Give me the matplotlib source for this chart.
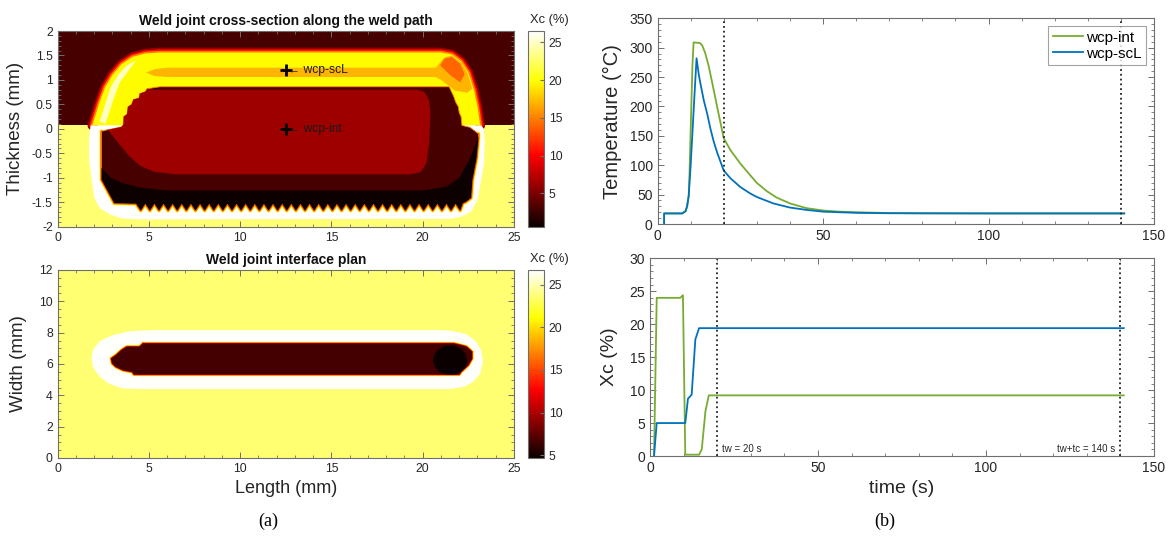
import numpy as np
import matplotlib
matplotlib.use("Agg")
import matplotlib.pyplot as plt
from matplotlib.patches import Polygon, Ellipse
from matplotlib.colors import Normalize
from matplotlib.cm import ScalarMappable
from matplotlib.ticker import MultipleLocator

plt.rcParams['font.family'] = ['Liberation Sans', 'DejaVu Sans']

# ---------------- thermal history (s, degC) ----------------
t_T_int = [2, 2, 7.5, 8.5, 9.0, 9.5, 10.0, 10.55, 10.9, 12.8, 13.5, 14.4, 15.5, 17.2, 18.0,
           20, 22, 25, 28, 30, 33, 36, 40, 45, 50, 55, 60, 70, 80, 100, 120, 141]
T_int = [0, 18, 18, 22, 30, 50, 155, 269, 309, 308, 304, 291, 268, 222, 200,
         146, 126, 103, 83, 70, 56, 45, 35, 27, 23, 21, 20, 18.7, 18.2, 18, 18, 18]

t_T_scl = [2, 2, 7.5, 8.5, 8.9, 9.4, 10.0, 10.5, 11.1, 11.8, 12.5, 13.0, 14.0, 15.0, 16.0,
           17.0, 18.0, 20, 22, 25, 28, 30, 35, 40, 45, 50, 60, 70, 100, 141]
T_scl = [0, 18, 18, 22, 30, 47, 98, 150, 212, 282, 253, 238, 210, 188, 162,
         140, 122, 91, 78, 63, 52, 46, 35, 28, 24, 21, 19, 18.3, 18, 18]

# ---------------- crystallinity history (s, %) ----------------
t_X_int = [1.2, 2.0, 9.0, 9.8, 10.5, 14.6, 15.4, 16.5, 17.5, 141]
X_int = [0, 24, 24, 24.4, 0.2, 0.2, 1.0, 6.8, 9.2, 9.2]

t_X_scl = [1.2, 2.0, 10.5, 11.3, 12.4, 13.5, 14.6, 141]
X_scl = [0, 5, 5, 8.7, 9.3, 17.7, 19.4, 19.4]

t_weld = 20
t_total = 140

# ---------------- cross-section zones (mm, Xc %) ----------------
xs_lims = (0.6, 26.5)
xs_val_top = 3.0
xs_val_bottom = 22.8
xs_val_band = 19.8
xs_val_stripe = 17.0
xs_val_stripe_dark = 14.0
xs_val_pale = 24.8
xs_val_ring = 26.4
xs_val_matrix = 3.0
xs_val_core = 6.3
xs_val_black = 0.8
xs_edge_outer = [6.0, 10.5, 15.0]
xs_edge_inner = [21.0, 16.0, 11.0]

surface_y = 0.07

band_outer = [(1.9, 0.07), (2.05, 0.25), (2.3, 0.55), (2.6, 0.85), (3.0, 1.1), (3.5, 1.32),
              (4.1, 1.47), (4.8, 1.54), (5.6, 1.56), (21.0, 1.56), (21.6, 1.52), (22.1, 1.38),
              (22.5, 1.15), (22.8, 0.8), (23.0, 0.45), (23.15, 0.07)]

jag_left = [(3.0, 0.0), (3.5, 0.04), (3.6, 0.09), (3.62, 0.25), (3.8, 0.3), (3.85, 0.45),
            (4.05, 0.5), (4.15, 0.6), (4.45, 0.63), (4.5, 0.72), (4.8, 0.76), (4.9, 0.82),
            (5.6, 0.86)]
jag_right = [(21.45, 0.86), (21.6, 0.74), (21.7, 0.66), (21.8, 0.55), (21.95, 0.45),
             (22.0, 0.33), (22.1, 0.25), (22.15, 0.07), (22.6, 0.03), (23.05, -0.1)]

stripe = [(4.85, 1.15), (5.3, 1.22), (6.0, 1.25), (20.7, 1.25), (20.95, 1.35), (21.2, 1.46),
          (21.6, 1.5), (22.1, 1.36), (22.45, 1.14), (22.72, 0.82), (22.45, 0.74),
          (22.15, 0.76), (21.75, 0.78), (21.5, 0.86), (21.0, 1.0), (20.7, 1.06), (6.0, 1.06),
          (5.3, 1.08)]
stripe_dark = [(20.95, 1.3), (21.2, 1.44), (21.6, 1.47), (22.05, 1.33), (22.3, 1.12),
               (22.05, 0.95), (21.5, 1.1)]
pale_strip = [(2.3, 0.15), (2.6, 0.5), (2.9, 0.85), (3.3, 1.1), (3.8, 1.3), (4.3, 1.4),
              (3.9, 1.2), (3.4, 0.95), (3.05, 0.6), (2.75, 0.25), (2.6, 0.1)]

ring_outer = [(1.8, 0.07), (1.72, -0.2), (1.72, -0.6), (1.86, -1.04), (2.0, -1.4),
              (2.3, -1.62), (2.86, -1.75), (3.5, -1.83), (4.5, -1.85), (21.5, -1.84),
              (22.1, -1.8), (22.65, -1.69), (23.0, -1.45), (23.2, -1.05), (23.35, -0.7),
              (23.4, -0.3), (23.35, 0.0), (23.2, 0.07)]

inner_side_left = [(2.4, -0.05), (2.4, -1.04), (3.1, -1.52)]
inner_side_right = [(22.2, -1.52), (22.37, -1.49), (22.65, -1.41), (22.72, -1.05),
                    (22.95, -0.6), (23.05, -0.2), (23.05, -0.1)]
saw_x = np.arange(4.3, 22.21, 0.25)
saw_depth = (-1.53, -1.67)

black_top = [(23.05, -0.15), (22.95, -0.25), (22.6, -0.6), (22.0, -1.0), (21.3, -1.18),
             (20.0, -1.26), (6.0, -1.26), (4.5, -1.2), (3.5, -1.1), (2.9, -1.0), (2.4, -0.8)]

core = [(2.75, -0.02)] + jag_left[1:-1] + [(5.2, 0.8), (6.0, 0.80), (19.7, 0.80), (20.1, 0.75),
        (20.35, 0.58), (20.42, 0.3), (20.35, -0.3), (20.2, -0.7), (19.9, -0.88),
        (19.3, -0.93), (6.5, -0.93), (5.3, -0.88), (4.5, -0.75), (3.9, -0.55), (3.3, -0.28)]

probe_x = [12.5, 12.5]
probe_y = [1.2, 0.0]
probe_names = ['wcp-scL', 'wcp-int']

# ---------------- interface plan zones (mm, Xc %) ----------------
pl_lims = (4.7, 26.7)
pl_val_bg = 23.6
pl_val_ring = 26.6
pl_val_nugget = 6.6
pl_val_core = 4.75
pl_edge = [21.0, 16.0, 11.0]

pl_ring = [(5.3, 8.16), (4.0, 8.1), (3.0, 7.85), (2.3, 7.45), (1.95, 6.95), (1.85, 6.35),
           (1.95, 5.75), (2.3, 5.2), (2.8, 4.75), (3.5, 4.45), (4.5, 4.4), (21.5, 4.4),
           (22.3, 4.55), (22.8, 4.9), (23.15, 5.4), (23.3, 6.1), (23.2, 6.9), (22.9, 7.45),
           (22.4, 7.9), (21.6, 8.12), (21.0, 8.16)]
pl_nugget = [(4.68, 7.31), (4.48, 7.1), (3.78, 7.1), (3.49, 6.88), (3.19, 6.56), (2.93, 6.35),
             (2.99, 6.03), (3.19, 5.82), (3.59, 5.6), (4.08, 5.5), (4.18, 5.33), (22.0, 5.33),
             (22.1, 5.5), (22.5, 5.93), (22.7, 6.35), (22.7, 6.78), (22.4, 7.1), (22.1, 7.2),
             (21.7, 7.31)]
pl_core_center = (21.5, 6.24)
pl_core_size = (1.85, 1.9)

# ---------------- figure ----------------
W, H = 1169, 542
fig = plt.figure(figsize=(W / 100, H / 100), dpi=100)


def frame(l, t, r, b):
    return [l / W, 1 - b / H, (r - l) / W, (b - t) / H]


cmap = plt.get_cmap('hot')
spine_col = '#6e6e6e'
text_col = '#262626'


def style(ax, size):
    for s in ax.spines.values():
        s.set_color(spine_col)
        s.set_linewidth(0.8)
    ax.tick_params(which='both', direction='in', top=True, right=True,
                   color=spine_col, labelcolor=text_col, labelsize=size)
    ax.tick_params(which='major', length=4, width=0.7)
    ax.tick_params(which='minor', length=2, width=0.6)


def edge_layers(ax, pts, vals, norm, widths, z):
    xs, ys = zip(*pts)
    for v, w in zip(vals, widths):
        ax.plot(xs, ys, color=cmap(norm(v)), lw=w, solid_joinstyle='round',
                solid_capstyle='round', zorder=z)


def patch(ax, pts, val, norm, z, **kw):
    p = Polygon(pts, closed=True, facecolor=cmap(norm(val)), edgecolor='none', zorder=z, **kw)
    ax.add_patch(p)
    return p


# ===== cross-section map =====
ax1 = fig.add_axes(frame(57.7, 31, 514, 226.7))
cax1 = fig.add_axes(frame(528, 31, 544, 226.7))
n1 = Normalize(*xs_lims)

patch(ax1, [(0, surface_y), (25, surface_y), (25, 2), (0, 2)], xs_val_top, n1, 1)
patch(ax1, [(0, -2), (25, -2), (25, surface_y), (0, surface_y)], xs_val_bottom, n1, 1)
edge_layers(ax1, band_outer, xs_edge_outer, n1, [7, 4.6, 2.4], 2)
patch(ax1, band_outer, xs_val_band, n1, 3)
patch(ax1, pale_strip, xs_val_pale, n1, 3.2)
patch(ax1, stripe, xs_val_stripe, n1, 3.3)
patch(ax1, stripe_dark, xs_val_stripe_dark, n1, 3.4)
patch(ax1, ring_outer, xs_val_ring, n1, 4)

# zig-zag lower boundary of the weld zone
saw = [(x, saw_depth[i % 2]) for i, x in enumerate(saw_x)]
inner_side = inner_side_left + saw + inner_side_right
edge_layers(ax1, inner_side, xs_edge_inner, n1, [3.0, 2.0, 1.0], 5)

interior = [(2.4, -0.05), (2.7, -0.02)] + jag_left + jag_right + inner_side_right[::-1] \
    + saw[::-1] + [(3.1, -1.52), (2.4, -1.04)]
pi = Polygon(interior, closed=True, facecolor=cmap(n1(xs_val_matrix)),
             edgecolor=cmap(n1(15.0)), lw=0.6, zorder=6)
ax1.add_patch(pi)

black = black_top + [(2.4, -1.04), (3.1, -1.52)] + saw + inner_side_right
patch(ax1, black, xs_val_black, n1, 7)
patch(ax1, core, xs_val_core, n1, 8)

for x, y, name in zip(probe_x, probe_y, probe_names):
    ax1.plot(x, y, marker='+', color='black', ms=9, mew=2, zorder=10)
    ax1.text(x + 0.1, y, '\u2190 ' + name, fontsize=8.7, va='center', ha='left',
             color='#1a1a1a', zorder=10)

ax1.set_xlim(0, 25)
ax1.set_ylim(-2, 2)
ax1.set_xticks(np.arange(0, 26, 5))
ax1.set_yticks(np.arange(-2, 2.01, 0.5))
ax1.set_yticklabels(['-2', '-1.5', '-1', '-0.5', '0', '0.5', '1', '1.5', '2'])
ax1.xaxis.set_minor_locator(MultipleLocator(1))
ax1.yaxis.set_minor_locator(MultipleLocator(0.1))
style(ax1, 8.8)
ax1.set_ylabel('Thickness (mm)', fontsize=13.5, color=text_col, labelpad=6)
ax1.set_title('Weld joint cross-section along the weld path', fontsize=10,
              fontweight='bold', pad=4, color='#111111')

cb1 = fig.colorbar(ScalarMappable(norm=n1, cmap=cmap), cax=cax1, ticks=[5, 10, 15, 20, 25])
cb1.outline.set_edgecolor(spine_col)
cb1.outline.set_linewidth(0.8)
cax1.tick_params(direction='in', color=spine_col, labelcolor=text_col, labelsize=8.8,
                 length=3)
cax1.text(0.1, 1.025, 'Xc (%)', transform=cax1.transAxes, ha='left', va='bottom',
          fontsize=9.3, color=text_col)

# ===== interface plan map =====
ax2 = fig.add_axes(frame(57.7, 270, 514, 458))
cax2 = fig.add_axes(frame(528, 270, 544, 458))
n2 = Normalize(*pl_lims)

patch(ax2, [(0, 0), (25, 0), (25, 12), (0, 12)], pl_val_bg, n2, 1)
patch(ax2, pl_ring, pl_val_ring, n2, 2)
edge_layers(ax2, pl_nugget + [pl_nugget[0]], pl_edge, n2, [2.4, 1.6, 0.8], 3)
nug = patch(ax2, pl_nugget, pl_val_nugget, n2, 4)
dot = Ellipse(pl_core_center, *pl_core_size, facecolor=cmap(n2(pl_val_core)),
              edgecolor='none', zorder=5)
ax2.add_patch(dot)
dot.set_clip_path(nug)

ax2.set_xlim(0, 25)
ax2.set_ylim(0, 12)
ax2.set_xticks(np.arange(0, 26, 5))
ax2.set_yticks(np.arange(0, 13, 2))
ax2.xaxis.set_minor_locator(MultipleLocator(1))
ax2.yaxis.set_minor_locator(MultipleLocator(0.5))
style(ax2, 8.8)
ax2.set_ylabel('Width (mm)', fontsize=13.5, color=text_col, labelpad=9)
ax2.set_xlabel('Length (mm)', fontsize=13, color=text_col, labelpad=4)
ax2.set_title('Weld joint interface plan', fontsize=10, fontweight='bold', pad=4,
              color='#111111')

cb2 = fig.colorbar(ScalarMappable(norm=n2, cmap=cmap), cax=cax2, ticks=[5, 10, 15, 20, 25])
cb2.outline.set_edgecolor(spine_col)
cb2.outline.set_linewidth(0.8)
cax2.tick_params(direction='in', color=spine_col, labelcolor=text_col, labelsize=8.8,
                 length=3)
cax2.text(0.1, 1.025, 'Xc (%)', transform=cax2.transAxes, ha='left', va='bottom',
          fontsize=9.3, color=text_col)

# ===== temperature history =====
green = '#77AC30'
blue = '#0072BD'

ax3 = fig.add_axes(frame(657.5, 18.3, 1154, 224))
ax3.plot(t_T_int, T_int, color=green, lw=1.3, label='wcp-int')
ax3.plot(t_T_scl, T_scl, color=blue, lw=1.3, label='wcp-scL')
for tv in (t_weld, t_total):
    ax3.axvline(tv, color='#222222', ls=':', lw=1.3)
ax3.set_xlim(0, 150)
ax3.set_ylim(0, 350)
ax3.set_xticks([0, 50, 100, 150])
ax3.set_yticks(np.arange(0, 351, 50))
ax3.xaxis.set_minor_locator(MultipleLocator(10))
ax3.yaxis.set_minor_locator(MultipleLocator(10))
style(ax3, 10)
ax3.set_ylabel('Temperature (\u00b0C)', fontsize=14.5, color=text_col, labelpad=5)
leg = ax3.legend(loc='upper right', fontsize=11, frameon=True, fancybox=False,
                 handlelength=2.0, handletextpad=0.2, borderaxespad=0.5,
                 borderpad=0.3, labelspacing=0.15)
leg.get_frame().set_edgecolor('#8c8c8c')
leg.get_frame().set_linewidth(0.8)

# ===== crystallinity history =====
ax4 = fig.add_axes(frame(650, 258.3, 1154, 456))
ax4.plot(t_X_int, X_int, color=green, lw=1.3)
ax4.plot(t_X_scl, X_scl, color=blue, lw=1.3)
for tv in (t_weld, t_total):
    ax4.axvline(tv, color='#222222', ls=':', lw=1.3)
ax4.text(t_weld + 1.5, 0.35, 'tw = 20 s', fontsize=7, color=text_col, ha='left', va='bottom')
ax4.text(t_total - 1.5, 0.35, 'tw+tc = 140 s', fontsize=7, color=text_col, ha='right',
         va='bottom')
ax4.set_xlim(0, 150)
ax4.set_ylim(0, 30)
ax4.set_xticks([0, 50, 100, 150])
ax4.set_yticks(np.arange(0, 31, 5))
ax4.xaxis.set_minor_locator(MultipleLocator(10))
ax4.yaxis.set_minor_locator(MultipleLocator(1))
style(ax4, 10)
ax4.set_ylabel('Xc (%)', fontsize=14, color=text_col, labelpad=8)
ax4.set_xlabel('time (s)', fontsize=14, color=text_col, labelpad=4)

fig.text(268 / W, 1 - 521 / H, '(a)', family='Liberation Serif', fontsize=13,
         ha='center', va='center')
fig.text(885 / W, 1 - 521 / H, '(b)', family='Liberation Serif', fontsize=13,
         ha='center', va='center')

fig.savefig('out.png', dpi=100)
